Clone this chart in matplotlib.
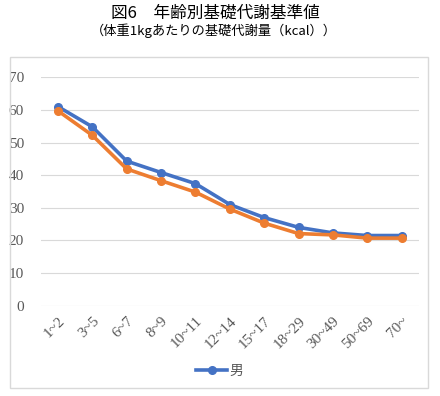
import matplotlib.pyplot as plt
from matplotlib.patches import Rectangle

ages = ['1~2', '3~5', '6~7', '8~9', '10~11', '12~14', '15~17', '18~29', '30~49', '50~69', '70~']
male = [61.0, 54.8, 44.3, 40.8, 37.4, 31.0, 27.0, 24.0, 22.3, 21.5, 21.5]
female = [59.7, 52.2, 41.9, 38.3, 34.8, 29.6, 25.3, 22.1, 21.7, 20.7, 20.7]

plt.rcParams['font.family'] = ['Liberation Serif', 'Noto Sans CJK JP', 'DejaVu Sans']

fig = plt.figure(figsize=(4.4, 3.96), dpi=100)
fig.patches.append(Rectangle((10 / 440, 1 - 388 / 396), 418 / 440, 331 / 396,
                             transform=fig.transFigure, fill=False,
                             edgecolor='#d9d9d9', linewidth=1))

fig.text(215 / 440, 1 - 13 / 396, '図6　年齢別基礎代謝基準値', ha='center', va='center',
         fontsize=12, family=['Noto Sans CJK JP'])
fig.text(214 / 440, 1 - 31 / 396, '（体重1kgあたりの基礎代謝量（kcal））', ha='center', va='center',
         fontsize=9.5, family=['Noto Sans CJK JP'])

ax = fig.add_axes([0.0927, 0.228, 0.8593, 0.577])
x = range(len(ages))
ax.plot(x, male, color='#4472C4', lw=2.6, marker='o', ms=5.5, label='男')
ax.plot(x, female, color='#ED7D31', lw=2.6, marker='o', ms=5.5)

ax.set_xlim(-0.5, len(ages) - 0.5)
ax.set_ylim(0, 70)
ax.set_yticks(range(0, 71, 10))
ax.set_xticks(list(x))
ax.set_xticklabels(ages, rotation=45, ha='right', rotation_mode='anchor')
ax.tick_params(length=0, colors='#595959', labelsize=11)
ax.tick_params(axis='y', pad=12)
ax.tick_params(axis='x', pad=6)
ax.grid(axis='y', color='#d9d9d9', lw=0.8)
ax.set_axisbelow(True)
for s in ax.spines.values():
    s.set_visible(False)

leg = fig.legend(loc='center', bbox_to_anchor=(0.5, 1 - 371 / 396), frameon=False,
                 handlelength=2.2, handletextpad=0.2,
                 prop={'family': ['Noto Sans CJK JP'], 'size': 10})
for t in leg.get_texts():
    t.set_color('#595959')

fig.savefig('out.png', dpi=100)
